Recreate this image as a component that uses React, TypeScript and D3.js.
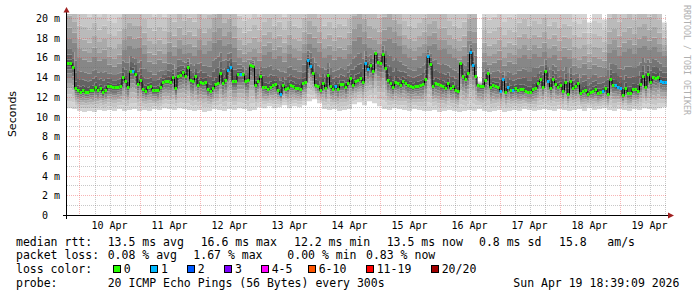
import React from 'react';
import * as d3 from 'd3';

// ---------- DATA ----------
// hourly median RTT (ms), starting 9 Apr 19:00 UTC, 240 points
const medianRtt: number[] = [
  15.46, 15.46, 15.1, 12.9, 12.7, 12.55, 12.7, 12.55, 12.55, 12.7,
  12.7, 13.0, 12.7, 12.9, 12.5, 12.75, 13.15, 13.1, 13.0, 13.0,
  13.0, 13.1, 14.1, 13.7, 13.0, 14.7, 14.7, 14.4, 13.3, 13.8,
  12.8, 12.6, 13.0, 13.1, 12.7, 12.7, 12.7, 13.05, 13.6, 13.7,
  13.7, 13.6, 14.1, 12.95, 14.2, 14.3, 14.55, 14.2, 15.12, 13.76,
  13.66, 14.17, 13.29, 13.56, 13.49, 13.56, 12.85, 12.68, 12.98, 13.39,
  13.49, 14.44, 13.49, 13.76, 14.78, 15.12, 13.66, 13.66, 14.34, 14.34,
  14.34, 13.66, 13.76, 15.29, 15.19, 13.25, 13.66, 14.17, 13.08, 13.02,
  12.81, 13.08, 13.25, 13.36, 12.75, 12.34, 13.22, 12.81, 12.92, 13.22,
  13.15, 12.98, 12.92, 12.81, 13.49, 13.59, 15.8, 15.19, 14.51, 13.25,
  13.15, 12.75, 13.49, 12.98, 14.24, 13.15, 12.88, 13.15, 12.88, 13.32,
  13.32, 13.08, 13.49, 13.93, 13.22, 13.69, 13.76, 13.93, 13.53, 15.53,
  14.92, 15.29, 14.71, 16.54, 15.63, 15.53, 16.37, 15.02, 13.76, 13.49,
  13.02, 13.56, 13.42, 13.22, 13.69, 13.49, 13.25, 13.15, 13.02, 13.15,
  13.15, 13.25, 13.36, 13.9, 16.2, 15.36, 13.15, 13.42, 13.36, 13.22,
  13.12, 12.92, 13.49, 12.92, 13.15, 12.75, 12.64, 15.53, 14.17, 13.83,
  14.44, 16.64, 15.29, 14.17, 13.2, 13.15, 13.15, 13.76, 14.51, 13.08,
  13.25, 13.15, 13.08, 12.68, 13.83, 12.58, 13.08, 12.75, 12.75, 12.92,
  12.75, 12.81, 12.81, 12.68, 12.58, 12.58, 12.81, 12.92, 13.42, 13.83,
  13.08, 14.68, 13.66, 12.92, 13.83, 13.36, 13.08, 13.25, 12.64, 13.56,
  12.34, 13.66, 12.92, 13.15, 13.42, 12.47, 12.64, 12.75, 12.34, 12.58,
  12.68, 12.81, 12.47, 12.54, 12.68, 12.92, 12.34, 13.9, 13.25, 13.22,
  13.08, 12.98, 12.24, 12.92, 12.47, 12.41, 12.85, 12.81, 12.64, 13.36,
  14.2, 13.08, 14.37, 13.59, 14.1, 13.97, 14.1, 13.69, 13.59, 13.59,
];

// hours with packet loss and how many of 20 pings were lost
const lossHours: number[] = [26, 64, 65, 69, 85, 96, 97, 107, 119, 120, 144, 161, 162, 173, 174, 176, 178, 192, 214, 219, 220, 221, 237, 238, 239];
const lossCounts: number[] = [1, 1, 1, 1, 1, 1, 1, 1, 1, 1, 1, 1, 1, 1, 1, 1, 1, 1, 1, 1, 1, 1, 1, 1, 1];

// smoke (2-hour columns): lowest ping, upper-quartile ping, highest ping (ms)
const smokeLo: number[] = [
  10.9, 10.8, 10.6, 10.5, 10.6, 10.5, 10.7, 10.6, 10.7, 10.6, 10.8, 10.6, 10.7, 10.8, 10.6, 10.7, 10.6, 10.8, 10.7, 10.9, 10.8, 10.7, 10.9, 10.8,
  10.7, 10.6, 10.7, 10.5, 10.6, 10.8, 10.7, 10.6, 10.8, 10.7, 10.9, 10.8, 10.6, 10.7, 11.0, 10.9, 11.1, 10.9, 11.0, 11.2, 10.9, 11.1, 11.0, 11.2,
  11.6, 11.8, 11.4, 10.8, 10.7, 10.8, 10.6, 10.7, 10.8, 11.3, 11.5, 11.2, 11.6, 11.4, 11.1, 10.8, 10.7, 10.9, 10.8, 10.7, 10.6, 10.8, 10.7, 10.6,
  10.6, 10.7, 10.5, 10.6, 10.7, 10.6, 10.5, 10.6, 10.7, 10.6, 10.8, 10.6, 10.5, 10.6, 10.7, 10.5, 10.6, 10.7, 10.6, 10.8, 10.7, 10.6, 10.7, 10.8,
  10.7, 10.6, 10.8, 10.7, 10.6, 10.7, 10.8, 10.6, 10.9, 10.7, 10.8, 10.9, 10.7, 10.6, 10.8, 10.7, 10.6, 10.8, 10.7, 10.9, 10.8, 10.7, 10.9, 11.0,
];
const smokeQ3: number[] = [
  18.0, 17.6, 16.0, 15.8, 15.6, 16.1, 15.7, 15.9, 15.3, 15.1, 15.4, 16.8, 17.2, 16.9, 17.0, 16.4, 15.6, 15.4, 15.8, 15.5, 16.6, 16.2, 16.9, 16.4,
  16.5, 16.2, 16.8, 16.4, 16.7, 17.6, 17.9, 17.2, 17.5, 17.0, 16.0, 15.6, 15.8, 16.1, 15.7, 16.3, 16.6, 15.9, 16.2, 15.6, 16.4, 16.0, 15.8, 16.5,
  17.4, 17.0, 16.6, 16.0, 16.3, 15.8, 16.1, 15.9, 16.4, 17.8, 18.2, 17.5, 17.0, 16.8, 16.5, 17.8, 18.0, 17.6, 17.2, 16.4, 16.0, 15.8, 16.2, 16.5,
  17.2, 17.5, 16.8, 16.9, 16.4, 16.0, 15.8, 16.2, 17.8, 17.6, 13.4, 15.6, 15.3, 15.5, 15.8, 15.2, 15.6, 15.4, 16.0, 16.3, 15.9, 16.4, 16.1, 16.6,
  16.0, 16.3, 15.8, 16.1, 15.9, 15.2, 15.0, 15.4, 14.9, 15.3, 15.1, 15.0, 16.5, 16.8, 16.2, 16.6, 16.9, 16.4, 17.0, 17.2, 16.8, 17.1, 16.6, 16.2,
];
const smokeHi: number[] = [
  25, 24, 22, 22, 21.5, 22.5, 21.5, 22, 21, 20.8, 21.5, 23.5, 24.5, 24, 24, 23, 22, 21.5, 22, 21.5, 23, 22.5, 23.5, 22.5,
  23, 22.5, 23.5, 23, 23.5, 25, 26, 24.5, 25, 24, 21.5, 21, 21.2, 22, 21.5, 22.5, 23, 22, 22.5, 21.5, 22.5, 22, 21.8, 23,
  24.5, 24, 23, 22, 22.5, 21.8, 22.3, 22, 23, 25.5, 26.5, 25, 24, 23.5, 23, 25, 25.5, 24.5, 24, 22.5, 22, 21.8, 22.3, 23,
  24, 24.5, 23.5, 23.5, 22.5, 22, 21.8, 22.5, 24.5, 25, 13.6, 21.5, 21.2, 21.5, 22, 21, 21.5, 21.3, 22.5, 23, 22, 22.5, 22.3, 23,
  22, 22.5, 21.8, 22.3, 22, 21, 20.8, 21.2, 19.6, 21, 20.9, 19.9, 23, 23.5, 22.5, 23, 23.5, 22.8, 23.5, 24, 23, 23.5, 22.5, 19.6,
];

const yTicks: number[] = [0, 2, 4, 6, 8, 10, 12, 14, 16, 18, 20];
const dayLabels: string[] = ['10 Apr', '11 Apr', '12 Apr', '13 Apr', '14 Apr', '15 Apr', '16 Apr', '17 Apr', '18 Apr', '19 Apr'];

const lossLegend: string[] = ['0', '1', '2', '3', '4-5', '6-10', '11-19', '20/20'];
const lossLegendColors: string[] = ['#26ff00', '#00b8ff', '#0059ff', '#7e00ff', '#ff00ff', '#ff5500', '#ff0000', '#a10000'];

// ---------- STYLE ----------
const HOUR = 3600e3;
const START = Date.UTC(2026, 3, 9, 19, 0, 0);
const NPTS = medianRtt.length;
const PLOT_L = 67, PLOT_R = 667, PLOT_B = 215.5;
const Y_MAX = 20.45;
const MONO = '"DejaVu Sans Mono", monospace';
const GRAYS = ['#444444', '#535353', '#636363', '#757575', '#878787', '#999999', '#aaaaaa', '#bababa', '#c7c7c7', '#d4d4d4'];
const LOWER_F = [0, 0.16, 0.31, 0.44, 0.56, 0.67, 0.77, 0.86, 0.93, 0.98];
const UPPER_A = [0.015, 0.15, 0.35, 0.6, 1.0];
const UPPER_B = [0.15, 0.33, 0.55, 0.78, 1.0];
const MAJOR_GRID = 'rgba(235,60,60,0.38)';
const MINOR_GRID = 'rgba(110,110,110,0.38)';

function lossColor(n: number): string {
  if (n <= 0) return lossLegendColors[0];
  if (n === 1) return lossLegendColors[1];
  if (n === 2) return lossLegendColors[2];
  if (n === 3) return lossLegendColors[3];
  if (n <= 5) return lossLegendColors[4];
  if (n <= 10) return lossLegendColors[5];
  if (n <= 19) return lossLegendColors[6];
  return lossLegendColors[7];
}

export default function App() {
  const x = d3.scaleUtc().domain([new Date(START), new Date(START + NPTS * HOUR)]).range([PLOT_L, PLOT_R]);
  const y = d3.scaleLinear().domain([0, Y_MAX]).range([PLOT_B, PLOT_B - Y_MAX * 9.85]);
  const yc = (v: number) => y(Math.min(v, Y_MAX));

  const pings: number[][] = medianRtt.map((m, i) => {
    const j = Math.floor(i / 2);
    const lo = Math.min(smokeLo[j], m - 0.3);
    const q3 = Math.max(smokeQ3[j], m + 0.2);
    const hi = Math.max(smokeHi[j], q3 + 0.1);
    const p: number[] = [];
    LOWER_F.forEach(f => p.push(lo + (m - lo) * f));
    UPPER_A.forEach(f => p.push(m + (q3 - m) * f));
    UPPER_B.forEach(f => p.push(q3 + (hi - q3) * f));
    return p;
  });
  const idx = d3.range(NPTS + 1);
  const tAt = (i: number) => new Date(START + i * HOUR);

  const bands = d3.range(19).map(k => {
    const area = d3.area<number>()
      .x(i => x(tAt(i)))
      .y0(i => yc(pings[Math.min(i, NPTS - 1)][k]))
      .y1(i => yc(pings[Math.min(i, NPTS - 1)][k + 1]))
      .curve(d3.curveStepAfter);
    return { d: area(idx) as string, color: GRAYS[Math.abs(k - 9)] };
  });

  const medLine = d3.line<number>()
    .x(i => x(tAt(i)))
    .y(i => Math.round(y(medianRtt[Math.min(i, NPTS - 1)])) + 0.5)
    .curve(d3.curveStepAfter)(idx) as string;

  const lossMap = new Map<number, number>();
  lossHours.forEach((h, k) => lossMap.set(h, lossCounts[k]));

  const days = d3.utcDay.range(new Date(START), new Date(START + NPTS * HOUR));
  const sixHours = d3.utcHour.every(6)!.range(new Date(START), new Date(START + NPTS * HOUR));
  const minorY = d3.range(1, 21).filter(v => v % 2 !== 0);

  const gy = (v: number) => Math.floor(y(v)) + 0.5;
  const gx = (t: Date) => Math.round(x(t)) + 0.5;
  const gTop = Math.ceil(y(Y_MAX));
  const gBot = 215;

  const row1 = 245.5, row2 = 259.3, row3 = 273, row4 = 286.8;
  const txt = (s: string, px: number, py: number, key: string) => (
    <text key={key} x={px} y={py} fontFamily={MONO} fontSize={11.5} fill="#000" style={{ whiteSpace: 'pre' }}>{s}</text>
  );
  const boxXs = [112.7, 150, 186.7, 224, 260.7, 307.7, 365.7, 430.7];

  return (
    <svg width={697} height={297} style={{ position: 'absolute', left: 0, top: 0, background: '#fff' }} xmlns="http://www.w3.org/2000/svg">
      <rect x={0} y={0} width={697} height={297} fill="#fff" />
      <defs>
        <clipPath id="plotClip">
          <rect x={PLOT_L} y={y(Y_MAX)} width={PLOT_R - PLOT_L} height={PLOT_B - y(Y_MAX)} />
        </clipPath>
      </defs>
      <g clipPath="url(#plotClip)">
        {bands.map((b, k) => <path key={k} d={b.d} fill={b.color} />)}
      </g>
      {/* grid */}
      <g shapeRendering="crispEdges">
        {minorY.map(v => (
          <line key={'my' + v} x1={PLOT_L} x2={PLOT_R} y1={gy(v)} y2={gy(v)} stroke={MINOR_GRID} strokeDasharray="1,1" />
        ))}
        {sixHours.filter(t => t.getUTCHours() !== 0).map(t => (
          <line key={'mx' + t.getTime()} x1={gx(t)} x2={gx(t)} y1={gTop} y2={gBot} stroke={MINOR_GRID} strokeDasharray="1,1" />
        ))}
        {yTicks.filter(v => v > 0).map(v => (
          <line key={'My' + v} x1={PLOT_L} x2={PLOT_R} y1={gy(v)} y2={gy(v)} stroke={MAJOR_GRID} strokeDasharray="1,1" />
        ))}
        {days.map(t => (
          <line key={'Mx' + t.getTime()} x1={gx(t)} x2={gx(t)} y1={gTop} y2={gBot} stroke={MAJOR_GRID} strokeDasharray="1,1" />
        ))}
      </g>
      {/* median */}
      <path d={medLine} fill="none" stroke="#000" strokeWidth={1} />
      {medianRtt.map((m, i) => {
        const x0 = x(tAt(i)), x1 = x(tAt(i + 1));
        return <rect key={'m' + i} x={x0} y={Math.round(y(m)) - 1} width={x1 - x0} height={3} fill={lossColor(lossMap.get(i) || 0)} />;
      })}
      {/* axes */}
      <line x1={63} x2={670} y1={215.5} y2={215.5} stroke="#000" />
      <line x1={66.5} x2={66.5} y1={219} y2={11} stroke="#000" />
      <path d="M668,212.5 L674,215.5 L668,218.5 Z" fill="#a02020" />
      <path d="M63.5,12.5 L66.5,7 L69.5,12.5 Z" fill="#a02020" />
      {/* y labels */}
      {yTicks.map(v => (
        <text key={'yl' + v} x={v === 0 ? 48 : 60} y={y(v) + 3.5} textAnchor="end" fontFamily={MONO} fontSize={10} fill="#000" style={{ whiteSpace: 'pre' }}>
          {v === 0 ? '0' : `${v} m`}
        </text>
      ))}
      {/* x labels */}
      {days.map((t, k) => (
        <text key={'xl' + k} x={x(new Date(t.getTime() + 12 * HOUR))} y={229} textAnchor="middle" fontFamily={MONO} fontSize={10} fill="#000">{dayLabels[k]}</text>
      ))}
      <text transform="translate(16,114) rotate(-90)" textAnchor="middle" fontFamily='"DejaVu Sans", sans-serif' fontSize={11} fill="#000">Seconds</text>
      <text transform="translate(684,5) rotate(90)" fontFamily={MONO} fontSize={9.5} fill="#b0b0b0" textLength={110} lengthAdjust="spacingAndGlyphs">RRDTOOL / TOBI OETIKER</text>
      {/* legend */}
      {txt('median rtt:', 16, row1, 'a0')}
      {txt('13.5 ms avg', 107.7, row1, 'a1')}
      {txt('16.6 ms max', 200.7, row1, 'a2')}
      {txt('12.2 ms min', 294, row1, 'a3')}
      {txt('13.5 ms now', 386.7, row1, 'a4')}
      {txt('0.8 ms sd', 479, row1, 'a5')}
      {txt('15.8', 559, row1, 'a6')}
      {txt('am/s', 607.3, row1, 'a7')}
      {txt('packet loss:', 16, row2, 'b0')}
      {txt('0.08 % avg', 107.7, row2, 'b1')}
      {txt('1.67 % max', 193.3, row2, 'b2')}
      {txt('0.00 % min', 287.3, row2, 'b3')}
      {txt('0.83 % now', 366, row2, 'b4')}
      {txt('loss color:', 16, row3, 'c0')}
      {lossLegend.map((s, k) => (
        <g key={'lg' + k}>
          <rect x={Math.round(boxXs[k]) + 0.5} y={265.5} width={7} height={7} fill={lossLegendColors[k]} stroke="#000" strokeWidth={1} />
          {txt(s, boxXs[k] + 11, row3, 'lt' + k)}
        </g>
      ))}
      {txt('probe:', 16, row4, 'd0')}
      {txt('20 ICMP Echo Pings (56 Bytes) every 300s', 107.7, row4, 'd1')}
      {txt('Sun Apr 19 18:39:09 2026', 513.3, row4, 'd2')}
    </svg>
  );
}
